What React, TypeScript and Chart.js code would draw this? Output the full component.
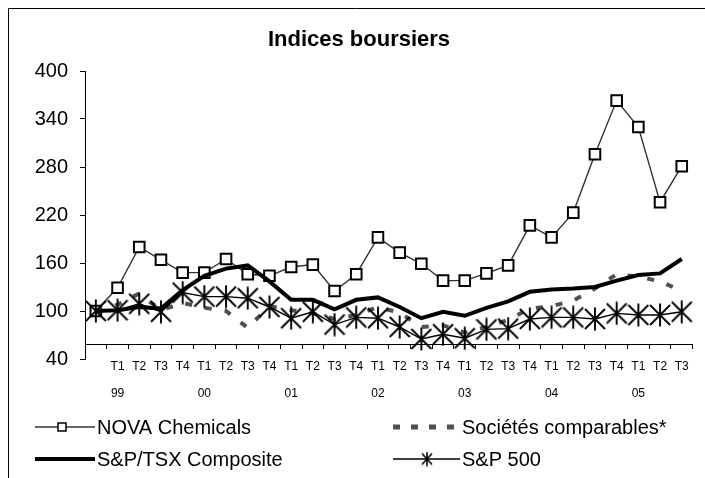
import React, { useEffect, useRef } from 'react';
import { Chart, registerables } from 'chart.js';

Chart.register(...registerables);

const FONT = "'Liberation Sans', Arial, sans-serif";

// Category labels: base point (unlabelled), then quarters 1999 T1 .. 2005 T3
const quarterLabels = ['', 'T1', 'T2', 'T3', 'T4', 'T1', 'T2', 'T3', 'T4', 'T1', 'T2', 'T3', 'T4', 'T1', 'T2', 'T3', 'T4', 'T1', 'T2', 'T3', 'T4', 'T1', 'T2', 'T3', 'T4', 'T1', 'T2', 'T3'];
const yearLabels = ['', '99', '', '', '', '00', '', '', '', '01', '', '', '', '02', '', '', '', '03', '', '', '', '04', '', '', '', '05', '', ''];

const novaChemicals = [100, 129, 180, 164, 148, 148, 165, 146, 144, 155, 158, 125, 146, 192, 173, 159, 138, 138, 147, 157, 207, 192, 223, 296, 363, 330, 236, 281];
const societesComparables = [100, 108, 122, 101, 110, 104, 100, 79, 106, 101, 97, 90, 95, 105, 98, 80, 82, 73, 80, 89, 103, 106, 113, 128, 146, 143, 137, 125];
const spTsxComposite = [100, 101, 105, 103, 126, 144, 153, 157, 137, 114, 114, 102, 114, 117, 105, 91, 99, 94, 104, 112, 124, 127, 128, 130, 138, 145, 147, 165];
const sp500 = [100, 101, 109, 99, 123, 118, 118, 116, 105, 91, 99, 83, 92, 91, 80, 65, 71, 66, 77, 78, 90, 92, 92, 90, 97, 95, 95, 99];

const yTicks = [40, 100, 160, 220, 280, 340, 400];
const seriesNames = ['NOVA Chemicals', 'Sociétés comparables*', 'S&P/TSX Composite', 'S&P 500'];
const chartTitle = 'Indices boursiers';

function makeStar(w: number, h: number, lw: number) {
  const c = document.createElement('canvas');
  c.width = w;
  c.height = h;
  const g = c.getContext('2d')!;
  g.strokeStyle = '#000';
  g.lineWidth = lw;
  g.beginPath();
  g.moveTo(w / 2, 0.5);
  g.lineTo(w / 2, h - 0.5);
  g.moveTo(1, 2);
  g.lineTo(w - 1, h - 2);
  g.moveTo(w - 1, 2);
  g.lineTo(1, h - 2);
  g.stroke();
  return c;
}

export default function App() {
  const ref = useRef<HTMLCanvasElement>(null);

  useEffect(() => {
    const canvas = ref.current!;
    const star = makeStar(22, 24, 1.9);
    const smallStar = makeStar(12, 15, 1.6);

    const decor = {
      id: 'decor',
      afterDraw(chart: any) {
        const ctx = chart.ctx as CanvasRenderingContext2D;
        ctx.save();
        // frame
        ctx.strokeStyle = '#000';
        ctx.lineWidth = 1;
        ctx.beginPath();
        ctx.moveTo(8.5, 478);
        ctx.lineTo(8.5, 8.5);
        ctx.lineTo(705, 8.5);
        ctx.stroke();
        // title
        ctx.fillStyle = '#000';
        ctx.font = `bold 22px ${FONT}`;
        ctx.textAlign = 'center';
        ctx.textBaseline = 'middle';
        ctx.fillText(chartTitle, 359, 40);
        // legend
        ctx.font = `20px ${FONT}`;
        ctx.textAlign = 'left';
        const row1 = 427, row2 = 459;
        // NOVA
        ctx.strokeStyle = '#333';
        ctx.lineWidth = 1.3;
        ctx.beginPath(); ctx.moveTo(35, row1); ctx.lineTo(95, row1); ctx.stroke();
        ctx.fillStyle = '#fff';
        ctx.fillRect(58, row1 - 4, 8, 8);
        ctx.strokeStyle = '#000';
        ctx.lineWidth = 1.5;
        ctx.strokeRect(58, row1 - 4, 8, 8);
        ctx.fillStyle = '#000';
        ctx.fillText(seriesNames[0], 97, row1 + 1);
        // Sociétés
        ctx.strokeStyle = '#505050';
        ctx.lineWidth = 5;
        ctx.setLineDash([7, 11]);
        ctx.beginPath(); ctx.moveTo(393, row1); ctx.lineTo(461, row1); ctx.stroke();
        ctx.setLineDash([]);
        ctx.fillText(seriesNames[1], 462, row1 + 1);
        // TSX
        ctx.strokeStyle = '#000';
        ctx.lineWidth = 4;
        ctx.beginPath(); ctx.moveTo(35, row2); ctx.lineTo(95, row2); ctx.stroke();
        ctx.fillText(seriesNames[2], 97, row2 + 1);
        // S&P 500
        ctx.lineWidth = 1.3;
        ctx.beginPath(); ctx.moveTo(393, row2); ctx.lineTo(460, row2); ctx.stroke();
        ctx.drawImage(smallStar, 427 - 6, row2 - 7.5);
        ctx.fillText(seriesNames[3], 462, row2 + 1);
        ctx.restore();
      },
    };

    const labels = quarterLabels.map((q, i) => [q, yearLabels[i]]);

    const chart = new Chart(canvas, {
      type: 'line',
      data: {
        labels,
        datasets: [
          {
            label: seriesNames[0],
            data: novaChemicals,
            borderColor: '#333',
            borderWidth: 1.4,
            pointStyle: 'rect',
            pointRadius: 7.5,
            pointBorderWidth: 2,
            pointBorderColor: '#000',
            pointBackgroundColor: '#fff',
            tension: 0,
            order: 3,
          },
          {
            label: seriesNames[1],
            data: societesComparables,
            borderColor: '#505050',
            borderWidth: 4,
            borderDash: [7, 13],
            pointRadius: 0,
            tension: 0,
            order: 2,
          },
          {
            label: seriesNames[2],
            data: spTsxComposite,
            borderColor: '#000',
            borderWidth: 4,
            pointRadius: 0,
            tension: 0,
            order: 1,
          },
          {
            label: seriesNames[3],
            data: sp500,
            borderColor: '#000',
            borderWidth: 1.4,
            pointStyle: star as any,
            pointRadius: 11,
            tension: 0,
            order: 0,
          },
        ],
      },
      options: {
        responsive: false,
        animation: false,
        events: [],
        layout: { padding: { top: 71, bottom: 119, left: 8, right: 7 } },
        plugins: {
          legend: { display: false },
          title: { display: false },
          tooltip: { enabled: false },
        },
        scales: {
          x: {
            type: 'category',
            position: { y: 58 } as any,
            offset: true,
            grid: { offset: true, drawOnChartArea: false, drawTicks: true, tickLength: 4, color: '#000' },
            border: { color: '#000', width: 1 },
            ticks: {
              autoSkip: false,
              maxRotation: 0,
              minRotation: 0,
              color: '#000',
              padding: 5,
              font: { family: FONT, size: 12, lineHeight: 2.2 },
            },
          },
          y: {
            type: 'linear',
            min: 40,
            max: 400,
            afterFit: (scale: any) => { scale.width = 77; },
            afterBuildTicks: (scale: any) => { scale.ticks = yTicks.map((v) => ({ value: v })); },
            grid: { drawOnChartArea: false, drawTicks: true, tickLength: 5, color: '#000' },
            border: { color: '#000', width: 1 },
            ticks: {
              color: '#000',
              padding: 12,
              font: { family: FONT, size: 20 },
            },
          },
        },
      },
      plugins: [decor],
    });
    return () => chart.destroy();
  }, []);

  return (
    <div style={{ position: 'absolute', left: 0, top: 0, width: 705, height: 478, background: '#fff' }}>
      <canvas ref={ref} width={705} height={478} style={{ display: 'block' }} />
    </div>
  );
}
